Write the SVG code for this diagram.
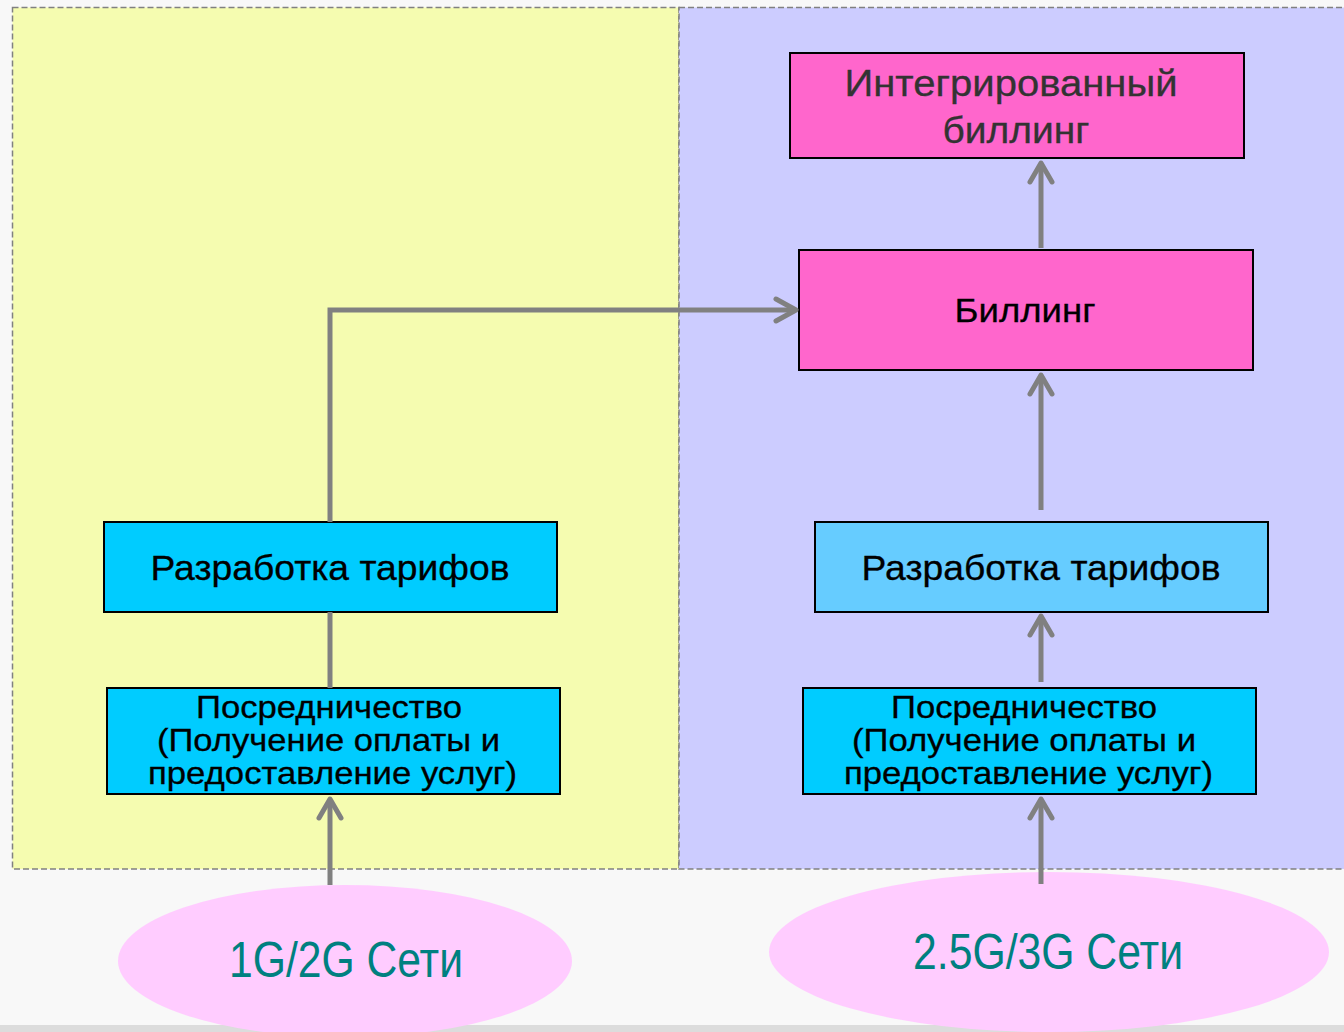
<svg xmlns="http://www.w3.org/2000/svg" width="1344" height="1032" viewBox="0 0 1344 1032">
<style>
.panel{stroke:#808080;stroke-width:1.5;stroke-dasharray:6 3}
.box{stroke:#000;stroke-width:2}
.t{font-family:"Liberation Sans",Arial,sans-serif;text-anchor:middle;fill:#000;stroke:#000;stroke-width:0.3}
.dk{fill:#333333;stroke:#333333}
.net{font-family:"Liberation Sans",Arial,sans-serif;text-anchor:middle;fill:#008080;font-size:50px}
.conn{fill:none;stroke:#808080;stroke-width:5}
.head{fill:none;stroke:#808080;stroke-width:5;stroke-linecap:round;stroke-linejoin:round}
</style>
<rect x="0" y="0" width="1344" height="1032" fill="#f8f8f8"/>
<rect x="0" y="1025" width="1344" height="7" fill="#dcdcdc"/>
<g id="panel-left"><rect class="panel" x="12.5" y="7.5" width="666.5" height="861.5" fill="#F5FCB0"/></g>
<g id="panel-right"><rect class="panel" x="679" y="7.5" width="670" height="861.5" fill="#CCCCFF"/></g>

<g id="integrated-billing">
<rect class="box" x="790" y="53" width="454" height="105" fill="#FF66CC"/>
<text class="t dk" x="1011" y="96" font-size="37" textLength="333" lengthAdjust="spacingAndGlyphs">Интегрированный</text>
<text class="t dk" x="1016" y="143" font-size="37" textLength="147" lengthAdjust="spacingAndGlyphs">биллинг</text>
</g>
<g id="billing">
<rect class="box" x="799" y="250" width="454" height="120" fill="#FF66CC"/>
<text class="t" x="1025" y="322" font-size="34" textLength="141" lengthAdjust="spacingAndGlyphs">Биллинг</text>
</g>
<g id="tariff-left">
<rect class="box" x="104" y="522" width="453" height="90" fill="#00CCFF"/>
<text class="t" x="330" y="580" font-size="35" textLength="359" lengthAdjust="spacingAndGlyphs">Разработка тарифов</text>
</g>
<g id="tariff-right">
<rect class="box" x="815" y="522" width="453" height="90" fill="#66CCFF"/>
<text class="t" x="1041" y="580" font-size="35" textLength="359" lengthAdjust="spacingAndGlyphs">Разработка тарифов</text>
</g>
<g id="mediation-left">
<rect class="box" x="107" y="688" width="453" height="106" fill="#00CCFF"/>
<text class="t" x="329" y="718" font-size="32" textLength="266" lengthAdjust="spacingAndGlyphs">Посредничество</text>
<text class="t" x="328.5" y="751" font-size="32" textLength="343" lengthAdjust="spacingAndGlyphs">(Получение оплаты и</text>
<text class="t" x="332.5" y="784" font-size="32" textLength="369" lengthAdjust="spacingAndGlyphs">предоставление услуг)</text>
</g>
<g id="mediation-right">
<rect class="box" x="803" y="688" width="453" height="106" fill="#00CCFF"/>
<text class="t" x="1024" y="718" font-size="32" textLength="266" lengthAdjust="spacingAndGlyphs">Посредничество</text>
<text class="t" x="1024" y="751" font-size="32" textLength="344" lengthAdjust="spacingAndGlyphs">(Получение оплаты и</text>
<text class="t" x="1028.5" y="784" font-size="32" textLength="369" lengthAdjust="spacingAndGlyphs">предоставление услуг)</text>
</g>
<g id="net-1g2g">
<ellipse cx="345" cy="961" rx="227" ry="76" fill="#FFCCFF"/>
<text class="net" x="346" y="977" textLength="234" lengthAdjust="spacingAndGlyphs">1G/2G Сети</text>
</g>
<g id="net-25g3g">
<ellipse cx="1049" cy="952" rx="280" ry="80" fill="#FFCCFF"/>
<text class="net" x="1048" y="969" textLength="270" lengthAdjust="spacingAndGlyphs">2.5G/3G Сети</text>
</g>

<g id="connectors">
<line class="conn" x1="330" y1="885" x2="330" y2="799"/>
<polyline class="head" points="319,818 330,799 341,818"/>
<line class="conn" x1="330" y1="612" x2="330" y2="688"/>
<polyline class="conn" points="330,522 330,310 795,310"/>
<polyline class="head" points="776,299 796,310 776,321"/>
<line class="conn" x1="1041" y1="884" x2="1041" y2="799"/>
<polyline class="head" points="1030,818 1041,799 1052,818"/>
<line class="conn" x1="1041" y1="682" x2="1041" y2="616"/>
<polyline class="head" points="1030,635 1041,616 1052,635"/>
<line class="conn" x1="1041" y1="510" x2="1041" y2="375"/>
<polyline class="head" points="1030,394 1041,375 1052,394"/>
<line class="conn" x1="1041" y1="248" x2="1041" y2="163"/>
<polyline class="head" points="1030,182 1041,163 1052,182"/>
</g>
</svg>
